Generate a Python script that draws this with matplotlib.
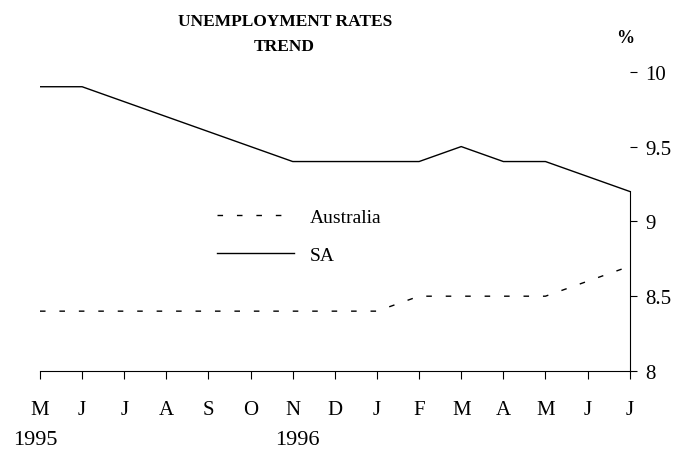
import matplotlib
matplotlib.use("Agg")
import matplotlib.pyplot as plt

months = ["M", "J", "J", "A", "S", "O", "N", "D", "J", "F", "M", "A", "M", "J", "J"]
sa = [9.9, 9.9, 9.8, 9.7, 9.6, 9.5, 9.4, 9.4, 9.4, 9.4, 9.5, 9.4, 9.4, 9.3, 9.2]
australia = [8.4, 8.4, 8.4, 8.4, 8.4, 8.4, 8.4, 8.4, 8.4, 8.5, 8.5, 8.5, 8.5, 8.6, 8.7]
yticks = [8, 8.5, 9, 9.5, 10]
ytick_labels = ["8", "8.5", "9", "9.5", "10"]
years = [("1995", -0.1), ("1996", 6.1)]

plt.rcParams["font.family"] = ["Liberation Serif", "DejaVu Serif"]

fig = plt.figure(figsize=(6.81, 4.52), dpi=100)
ax = fig.add_axes([0.0587, 0.177, 0.866, 0.662])
x = list(range(len(months)))

ax.plot(x, australia, color="black", lw=1.0, linestyle=(0, (4, 10)), label="Australia")
ax.plot(x, sa, color="black", lw=1.0, label="SA")

ax.set_xlim(0, len(months) - 1)
ax.set_ylim(8, 10)

for s in ["left", "top"]:
    ax.spines[s].set_visible(False)
ax.spines["right"].set_bounds(8, 9.2)
ax.spines["right"].set_linewidth(0.8)
ax.spines["bottom"].set_linewidth(0.8)

ax.yaxis.tick_right()
ax.set_yticks(yticks)
ax.set_yticklabels(ytick_labels)
ax.tick_params(axis="y", direction="out", length=5, width=0.8, labelsize=15, pad=6)
ax.set_xticks(x)
ax.set_xticklabels(months)
ax.tick_params(axis="x", direction="out", length=6, width=0.8, labelsize=15, pad=15)

for label, pos in years:
    ax.text(pos, -0.228, label, transform=ax.get_xaxis_transform(), ha="center", va="center", fontsize=16)

fig.text(0.418, 0.951, "UNEMPLOYMENT RATES", ha="center", va="center", fontsize=12.5, fontweight="bold")
fig.text(0.418, 0.896, "TREND", ha="center", va="center", fontsize=12.5, fontweight="bold")
fig.text(0.918, 0.915, "%", ha="center", va="center", fontsize=13, fontweight="bold")

leg = ax.legend(loc="center left", bbox_to_anchor=(0.27, 0.45), frameon=False, fontsize=14,
                handlelength=4.0, handletextpad=0.8, labelspacing=1.05)

fig.savefig("out.png", dpi=100)
